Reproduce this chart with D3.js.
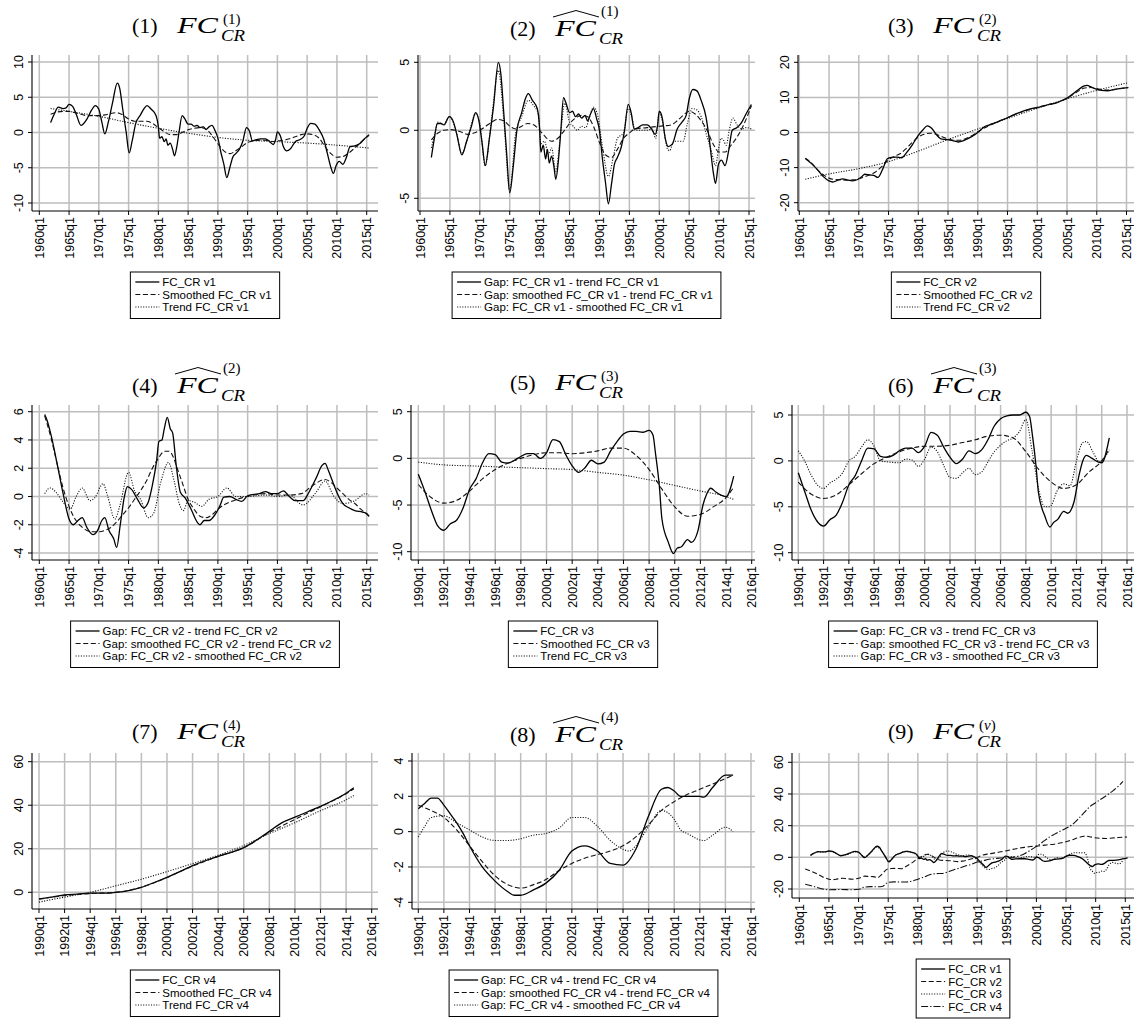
<!DOCTYPE html>
<html><head><meta charset="utf-8">
<script src="https://cdn.jsdelivr.net/npm/d3@7"></script>
<style>body{margin:0;background:#fff}svg{display:block}</style>
</head><body>
<svg id="chart" width="1134" height="1019"></svg>
<script>
// ---------------- tick labels ----------------
const xLabLong = ["1960q1","1965q1","1970q1","1975q1","1980q1","1985q1","1990q1","1995q1","2000q1","2005q1","2010q1","2015q1"];
const xLabShort = ["1990q1","1992q1","1994q1","1996q1","1998q1","2000q1","2002q1","2004q1","2006q1","2008q1","2010q1","2012q1","2014q1","2016q1"];
const yTicks1 = [-10,-5,0,5,10];
const yTicks2 = [-5,0,5];
const yTicks3 = [-20,-10,0,10,20];
const yTicks4 = [-4,-2,0,2,4,6];
const yTicks5 = [-10,-5,0,5];
const yTicks6 = [-10,-5,0,5];
const yTicks7 = [0,20,40,60];
const yTicks8 = [-4,-2,0,2,4];
const yTicks9 = [-20,0,20,40,60];

// ---------------- series [year, value] ----------------
const fc1 = [[1961.9,1.4],[1962.5,2.6],[1963.2,3.6],[1964,3.4],[1964.5,3.5],[1965,4.0],[1965.6,3.7],[1966.2,2.6],[1967,1.0],[1968,1.9],[1968.8,3.2],[1969.4,3.8],[1970,3.3],[1970.5,1.5],[1971,-0.2],[1971.6,1.5],[1972.3,4.2],[1973.1,7.0],[1973.5,6.3],[1974,3.4],[1974.6,0.0],[1975.1,-2.9],[1975.6,-1.2],[1976.2,1.3],[1977,2.5],[1977.6,3.4],[1978.1,3.8],[1978.8,3.3],[1979.6,2.4],[1980,0.8],[1980.2,-0.8],[1980.6,-0.6],[1981,-1.3],[1981.3,-0.9],[1981.6,-1.8],[1982,-1.5],[1982.4,-2.4],[1982.7,-3.3],[1983.1,-2.0],[1983.5,0.2],[1984,2.4],[1984.4,2.0],[1985,1.2],[1985.5,1.2],[1986,0.9],[1986.5,1.0],[1987,0.7],[1987.6,0.8],[1988,0.4],[1988.5,0.8],[1989,1.0],[1989.5,0.3],[1990,-0.8],[1990.5,-2.8],[1991,-4.5],[1991.5,-6.4],[1992,-5.0],[1992.5,-3.5],[1993,-3.0],[1993.6,-2.4],[1994.2,-1.2],[1994.8,0.7],[1995.3,0.2],[1995.8,-1.2],[1996.5,-1.0],[1997.2,-0.9],[1998,-0.9],[1998.7,-1.3],[1999.3,-1.7],[1999.7,-1.0],[2000,0.1],[2000.5,-0.5],[2001,-2.0],[2001.5,-2.6],[2002.2,-2.3],[2003,-1.3],[2003.8,-1.0],[2004.5,-0.5],[2005,0.6],[2005.6,1.3],[2006.3,1.2],[2007,0.4],[2007.8,-1.0],[2008.4,-3.0],[2009,-5.0],[2009.4,-5.8],[2009.9,-4.6],[2010.4,-4.1],[2011,-4.5],[2011.6,-3.5],[2012.2,-2.0],[2013,-1.9],[2013.8,-1.6],[2014.5,-1.0],[2015.4,-0.3]];
const fc1Smooth = [[1961.9,2.6],[1963,2.9],[1964,3.0],[1965,3.0],[1966,2.8],[1967,2.6],[1968,2.4],[1969,2.4],[1970,2.4],[1971,2.5],[1972,2.7],[1973,2.8],[1974,2.5],[1975,1.9],[1976,1.6],[1977,1.6],[1978,1.6],[1979,1.3],[1980,0.7],[1981,0.1],[1982,-0.3],[1983,-0.3],[1984,0.0],[1985,0.4],[1986,0.6],[1987,0.7],[1988,0.5],[1989,-0.4],[1990,-1.6],[1991,-2.6],[1992,-3.0],[1993,-2.6],[1994,-2.0],[1995,-1.4],[1996,-1.2],[1997,-1.1],[1998,-1.1],[1999,-1.3],[2000,-1.2],[2001,-1.1],[2002,-0.9],[2003,-0.6],[2004,-0.3],[2005,-0.2],[2006,-0.3],[2007,-0.8],[2008,-2.0],[2009,-3.0],[2010,-3.5],[2011,-3.4],[2012,-2.9],[2013,-2.2],[2014,-1.4],[2015.4,-0.4]];
const fc1Trend = [[1961.9,3.4],[1965,3.0],[1970,2.3],[1975,1.4],[1980,0.6],[1985,-0.1],[1990,-0.7],[1995,-1.1],[2000,-1.3],[2005,-1.5],[2010,-1.8],[2015.4,-2.2]];

const gap1Trend = [[1961.9,-2.0],[1962.4,-0.6],[1962.9,0.5],[1963.5,0.5],[1964,0.4],[1964.9,1.0],[1965.6,0.6],[1966.2,-0.4],[1967,-1.8],[1967.8,-0.8],[1968.6,0.3],[1969.3,1.3],[1969.8,0.8],[1970.4,-1.0],[1970.9,-2.6],[1971.6,-0.6],[1972.3,1.8],[1973.1,5.0],[1973.5,4.2],[1974,1.3],[1974.5,-1.8],[1975,-4.6],[1975.6,-2.6],[1976.2,0.0],[1977,1.3],[1977.6,2.3],[1978.1,2.7],[1978.8,2.2],[1979.6,1.6],[1980,0.1],[1980.2,-1.6],[1980.6,-1.1],[1981,-2.1],[1981.3,-1.4],[1981.6,-2.4],[1982,-1.9],[1982.4,-2.7],[1982.7,-3.6],[1983.1,-2.4],[1983.5,-0.3],[1984,2.4],[1984.4,2.0],[1985,1.3],[1985.5,1.4],[1986,1.0],[1986.5,1.2],[1987,0.9],[1987.6,1.1],[1988,0.7],[1988.5,1.2],[1989,1.6],[1989.5,0.9],[1990,0.0],[1990.5,-2.1],[1991,-3.8],[1991.5,-5.4],[1992,-4.0],[1992.5,-2.5],[1993,-2.0],[1993.6,-1.3],[1994.2,0.0],[1994.8,1.9],[1995.3,1.3],[1995.8,0.1],[1996.5,0.2],[1997.2,0.4],[1998,0.4],[1998.7,0.1],[1999.3,-0.3],[1999.7,0.3],[2000,1.4],[2000.5,0.9],[2001,-0.6],[2001.5,-1.2],[2002.2,-1.0],[2003,0.1],[2003.8,0.6],[2004.5,1.1],[2005,2.3],[2005.6,3.0],[2006.3,2.9],[2007,2.2],[2007.8,1.0],[2008.4,-0.8],[2009,-3.0],[2009.4,-3.9],[2009.9,-2.5],[2010.4,-2.2],[2011,-2.6],[2011.6,-1.5],[2012.2,0.0],[2013,0.2],[2013.8,0.6],[2014.5,1.2],[2015.4,1.9]];
const gap1SmTrend = [[1961.9,-0.7],[1963,-0.2],[1964,0.0],[1965,0.05],[1966,0.0],[1967,-0.15],[1968,-0.3],[1969,-0.2],[1970,0.0],[1971,0.3],[1972,0.6],[1973,0.8],[1974,0.7],[1975,0.3],[1976,0.1],[1977,0.3],[1978,0.5],[1979,0.4],[1980,0.0],[1981,-0.5],[1982,-0.8],[1983,-0.6],[1984,-0.1],[1985,0.5],[1986,0.9],[1987,1.1],[1988,1.0],[1989,0.3],[1990,-0.9],[1991,-1.8],[1992,-2.0],[1993,-1.4],[1994,-0.6],[1995,-0.2],[1996,0.1],[1998,0.2],[2000,0.3],[2002,0.4],[2003,0.7],[2004,1.1],[2005,1.4],[2006,1.2],[2007,0.7],[2008,0.0],[2009,-1.0],[2010,-1.6],[2011,-1.6],[2012,-1.1],[2013,-0.5],[2014,0.3],[2015.4,1.8]];
const gap1Sm = [[1961.9,-1.3],[1962.5,-0.2],[1963,0.6],[1964,0.4],[1964.9,1.0],[1966,0.0],[1967,-1.7],[1968,-0.5],[1969.3,1.2],[1970,0.5],[1970.9,-2.6],[1972,1.0],[1973.1,4.4],[1974,0.8],[1975,-4.4],[1976,-0.2],[1977,1.0],[1978.1,2.2],[1979,1.8],[1979.8,1.2],[1980.2,-1.0],[1980.8,-0.8],[1981.5,-1.8],[1982,-1.3],[1982.7,-3.0],[1983.5,-0.3],[1984.2,2.0],[1985,0.6],[1985.6,0.3],[1986.3,0.0],[1987,0.3],[1987.7,0.2],[1988.3,0.9],[1989,1.7],[1989.7,1.1],[1990.5,-1.2],[1991.5,-3.4],[1992.3,-2.0],[1993,-0.6],[1994,-0.2],[1994.8,1.6],[1995.4,1.0],[1996,0.0],[1997,0.0],[1998,0.0],[1998.8,0.1],[1999.4,-0.6],[2000,1.3],[2000.6,0.5],[2001.3,-1.3],[2001.7,-1.5],[2002.5,-0.8],[2003.3,-0.8],[2004,-0.8],[2004.7,0.5],[2005.5,1.6],[2006.3,1.5],[2007,1.0],[2008,-0.5],[2008.7,-1.5],[2009.4,-2.6],[2009.9,-1.4],[2010.3,-0.6],[2010.7,-0.7],[2011.2,-1.1],[2011.7,0.0],[2012.3,0.9],[2013,0.4],[2013.8,0.1],[2014.6,0.2],[2015.4,0.1]];

const fc2 = [[1961,-7.4],[1962,-8.8],[1963,-10.5],[1964,-12.5],[1965,-13.8],[1965.6,-14.1],[1966.5,-13.6],[1967.3,-13.2],[1968,-13.5],[1969,-13.8],[1969.8,-13.4],[1970.5,-12.6],[1971,-11.9],[1971.8,-12.1],[1972.5,-12.2],[1973.2,-12.8],[1974,-10.5],[1974.8,-7.5],[1975.5,-7.1],[1976.3,-7.0],[1977.2,-7.2],[1978,-5.8],[1979,-3.5],[1980,-0.8],[1980.8,0.8],[1981.5,1.9],[1982.2,1.3],[1983,-0.5],[1983.8,-1.8],[1984.8,-2.0],[1985.8,-2.3],[1986.7,-2.7],[1987.5,-2.4],[1988.5,-1.6],[1989.5,-0.6],[1990.3,0.4],[1991,1.5],[1992,2.2],[1993,2.8],[1994,3.5],[1995,4.2],[1996,5.0],[1997,5.7],[1998,6.3],[1999,6.8],[2000,7.1],[2001,7.5],[2002,8.0],[2003,8.3],[2004,9.0],[2005,9.8],[2006,11.0],[2007,12.3],[2007.8,13.2],[2008.4,13.4],[2009,13.0],[2009.8,12.4],[2010.8,12.0],[2011.8,11.9],[2012.8,12.2],[2013.8,12.5],[2015.3,12.8]];
const fc2Smooth = [[1961,-7.3],[1962,-8.6],[1963,-10.5],[1964,-12.0],[1965,-13.0],[1966,-13.4],[1967,-13.5],[1968,-13.6],[1969,-13.5],[1970,-13.2],[1971,-12.6],[1972,-12.0],[1973,-11.0],[1974,-9.5],[1975,-7.8],[1976,-6.8],[1977,-6.0],[1978,-4.5],[1979,-2.8],[1980,-1.3],[1981,-0.5],[1982,-0.2],[1983,-0.5],[1984,-1.2],[1985,-1.8],[1986,-2.2],[1987,-2.2],[1988,-1.7],[1989,-0.9],[1990,0.2],[1991,1.2],[1992,2.0],[1993,2.8],[1995,4.2],[1997,5.6],[2000,7.2],[2002,8.0],[2004,9.0],[2005,9.8],[2006,10.8],[2007,11.9],[2008,12.7],[2009,12.8],[2010,12.5],[2011,12.2],[2012,12.1],[2013.5,12.4],[2015.3,12.8]];
const fc2Trend = [[1961,-13.3],[1965,-11.8],[1970,-10.3],[1975,-8.3],[1980,-5.3],[1985,-2.0],[1990,1.0],[1995,4.0],[2000,6.9],[2005,9.6],[2010,12.0],[2015.3,14.2]];

const gap2Trend = [[1960.9,5.8],[1961.3,5.4],[1962,4.3],[1963,2.3],[1964,0.2],[1965,-1.6],[1965.7,-2.0],[1966.5,-1.7],[1967.2,-1.5],[1968,-2.2],[1969,-2.7],[1969.8,-2.4],[1970.5,-1.7],[1971,-1.5],[1971.7,-2.4],[1972.5,-3.0],[1973,-3.6],[1973.6,-2.0],[1974.3,0.0],[1974.8,0.7],[1975.5,0.5],[1976.5,-0.2],[1977.5,-0.8],[1978.3,-0.4],[1979,0.8],[1979.7,2.5],[1980.1,3.9],[1980.6,4.0],[1981,4.8],[1981.5,5.6],[1982,4.8],[1982.4,4.5],[1983,2.2],[1983.7,0.3],[1984.5,-0.1],[1985.5,-0.9],[1986.5,-1.8],[1987,-2.0],[1987.7,-1.7],[1988.5,-1.7],[1989.5,-1.3],[1990.3,-0.7],[1991,-0.05],[1992,0.0],[1993,-0.2],[1994,-0.35],[1995,0.05],[1996,0.15],[1997,0.2],[1998,0.35],[1999,0.2],[2000,0.2],[2001,0.4],[2002,0.0],[2003,-0.3],[2004.3,-0.3],[2005.3,0.3],[2006.5,1.3],[2007.5,2.2],[2008,2.35],[2008.6,1.8],[2009.5,0.8],[2010.3,0.0],[2011,-0.5],[2012,-0.8],[2013,-1.0],[2014.3,-1.1],[2015,-1.2],[2015.4,-1.4]];
const gap2SmTrend = [[1960.9,5.7],[1962,4.1],[1963,2.3],[1964,0.6],[1965,-0.7],[1966,-1.6],[1967,-2.1],[1968,-2.4],[1969,-2.5],[1970,-2.5],[1971,-2.4],[1972,-2.2],[1973,-1.8],[1974,-1.3],[1975,-0.8],[1976,-0.2],[1977,0.4],[1978,1.1],[1979,2.0],[1980,2.7],[1981,3.2],[1981.8,3.2],[1982.5,2.8],[1983,2.2],[1984,1.0],[1985,-0.2],[1986,-0.9],[1987,-1.4],[1988,-1.5],[1989,-1.3],[1990,-0.9],[1991,-0.6],[1992,-0.4],[1994,-0.1],[1996,0.1],[1998,0.2],[2000,0.1],[2002,0.1],[2004,0.2],[2006,0.8],[2008,1.2],[2009,1.0],[2010,0.6],[2011,0.2],[2012,-0.2],[2013,-0.5],[2014,-0.9],[2015.4,-1.4]];
const gap2Sm = [[1960.9,0.2],[1961.8,0.6],[1962.8,0.3],[1964,-0.4],[1965.2,-0.9],[1966.2,0.0],[1967.2,0.6],[1968.5,-0.3],[1969.3,-0.1],[1970.7,0.9],[1971.5,0.0],[1972.7,-1.6],[1973.5,-0.7],[1975,1.7],[1976,0.4],[1977,-0.2],[1978.3,-1.5],[1979.2,-1.2],[1980.4,1.0],[1981.7,2.4],[1982.7,1.0],[1983.5,-0.5],[1984.2,-1.0],[1985,-0.3],[1986,-0.4],[1987.3,-0.7],[1988.5,-0.2],[1990,0.0],[1991.5,0.6],[1993,0.0],[1995,0.0],[1998,0.1],[2000,0.0],[2002,0.1],[2004.3,-0.6],[2006.5,0.3],[2008,1.1],[2009.5,0.0],[2011,-0.5],[2013,-0.3],[2014.8,0.2],[2015.4,0.1]];

const fc3 = [[1990,-1.7],[1990.5,-3.5],[1991,-5.5],[1991.5,-7.2],[1992,-7.7],[1992.5,-7.0],[1993,-6.6],[1993.5,-5.3],[1994,-3.3],[1994.5,-2.2],[1995,-0.5],[1995.5,0.5],[1996,0.4],[1996.5,-0.4],[1997,-0.5],[1997.5,-0.2],[1998,0.2],[1998.5,0.5],[1999,0.5],[1999.5,0.0],[2000,0.6],[2000.5,2.0],[2001,1.8],[2001.5,0.4],[2002,-0.8],[2002.5,-1.5],[2003,-1.0],[2003.5,-0.2],[2004,-0.6],[2004.5,-0.4],[2005,0.8],[2005.5,1.8],[2006,2.6],[2006.5,2.9],[2007,2.9],[2007.5,2.8],[2008,3.0],[2008.3,2.5],[2008.5,0.5],[2008.8,-3.0],[2009,-6.5],[2009.5,-9.0],[2009.9,-10.2],[2010.2,-9.6],[2010.5,-9.5],[2011,-8.7],[2011.3,-9.0],[2011.8,-7.8],[2012.2,-5.0],[2012.5,-3.8],[2012.8,-3.2],[2013.2,-3.6],[2013.7,-4.0],[2014,-4.1],[2014.6,-1.9]];
const fc3Smooth = [[1990,-2.8],[1991,-4.2],[1992,-4.8],[1993,-4.5],[1994,-3.5],[1995,-2.2],[1996,-1.2],[1997,-0.5],[1998,0.0],[1999,0.4],[2000,0.6],[2001,0.6],[2002,0.5],[2003,0.6],[2004,0.8],[2005,1.1],[2006,1.1],[2007,0.3],[2008,-1.2],[2009,-3.3],[2010,-5.2],[2011,-6.2],[2012,-6.0],[2013,-5.2],[2014,-4.2],[2014.6,-3.1]];
const fc3Trend = [[1990,-0.4],[1992,-0.7],[1994,-0.8],[1996,-0.9],[1998,-1.0],[2000,-1.1],[2002,-1.2],[2004,-1.5],[2006,-1.8],[2008,-2.3],[2010,-2.9],[2012,-3.5],[2014,-4.1],[2014.6,-4.4]];

const gap3Trend = [[1990,-1.3],[1990.5,-3.3],[1991,-5.3],[1991.5,-6.6],[1992,-7.1],[1992.5,-6.4],[1993,-5.9],[1993.5,-4.5],[1994,-2.6],[1994.5,-1.6],[1995,0.0],[1995.5,1.4],[1996,1.3],[1996.5,0.5],[1997,0.4],[1997.5,0.6],[1998,1.1],[1998.5,1.4],[1999,1.4],[1999.5,0.9],[2000,1.6],[2000.5,3.1],[2001,2.8],[2001.5,1.5],[2002,0.4],[2002.5,-0.3],[2003,0.2],[2003.5,1.1],[2004,0.8],[2004.5,1.2],[2005,2.3],[2005.5,3.8],[2006,4.6],[2006.5,4.9],[2007,5.0],[2007.5,5.0],[2008,5.3],[2008.3,4.8],[2008.5,3.0],[2008.8,-0.5],[2009,-3.5],[2009.5,-6.0],[2009.9,-7.2],[2010.2,-6.7],[2010.5,-6.4],[2011,-5.5],[2011.3,-5.7],[2011.8,-4.5],[2012.2,-1.6],[2012.5,0.0],[2012.8,0.6],[2013.2,0.3],[2013.7,-0.1],[2014,-0.2],[2014.6,2.5]];
const gap3SmTrend = [[1990,-2.3],[1991,-3.6],[1992,-4.1],[1993,-3.7],[1994,-2.6],[1995,-1.4],[1996,-0.3],[1997,0.4],[1998,1.0],[1999,1.4],[2000,1.6],[2001,1.6],[2002,1.7],[2003,2.0],[2004,2.3],[2005,2.7],[2006,2.8],[2007,2.5],[2008,1.0],[2009,-0.9],[2010,-2.3],[2011,-3.0],[2012,-2.6],[2013,-1.2],[2014,0.0],[2014.6,1.3]];
const gap3Sm = [[1990,1.1],[1990.5,0.0],[1991,-1.5],[1991.5,-2.6],[1992,-3.0],[1992.5,-2.4],[1993,-2.0],[1993.5,-1.3],[1994,0.0],[1994.5,0.5],[1995,1.5],[1995.5,2.3],[1996,1.6],[1996.5,0.0],[1997,-0.1],[1998,-0.2],[1998.5,0.2],[1999,0.1],[1999.5,-0.6],[2000,0.2],[2000.5,1.5],[2001,1.0],[2001.5,-0.5],[2002,-1.8],[2002.5,-1.9],[2003,-1.3],[2003.5,-0.8],[2004,-1.5],[2004.5,-1.2],[2005,-0.1],[2005.5,1.0],[2006,1.7],[2006.5,2.2],[2007,2.5],[2007.5,3.2],[2008,4.5],[2008.5,1.0],[2009,-3.0],[2009.5,-5.0],[2009.9,-5.0],[2010.5,-3.2],[2011,-2.5],[2011.5,-2.7],[2012,0.0],[2012.5,2.0],[2012.8,2.1],[2013.3,1.0],[2013.8,-0.1],[2014.6,1.2]];

const fc4 = [[1990,-3.0],[1991,-2.2],[1992,-1.2],[1993,-0.8],[1994,-0.4],[1995,-0.4],[1996,0.0],[1997,0.8],[1998,2.3],[1999,4.5],[2000,6.9],[2001,9.5],[2002,12.3],[2003,14.5],[2004,16.5],[2005,18.3],[2006,20.5],[2007,24.0],[2008,28.0],[2009,32.0],[2010,34.5],[2011,37.0],[2012,39.5],[2013,42.3],[2014,45.5],[2014.6,48.0]];
const fc4Smooth = [[1990,-3.2],[1992,-1.5],[1994,-0.6],[1996,0.0],[1998,2.3],[2000,6.8],[2002,12.0],[2004,16.5],[2006,20.5],[2008,27.5],[2010,33.5],[2012,39.3],[2014,45.3],[2014.6,47.5]];
const fc4Trend = [[1990,-4.5],[1992,-2.2],[1994,0.0],[1996,3.0],[1998,6.0],[2000,9.5],[2002,13.2],[2004,17.0],[2006,21.5],[2008,27.0],[2010,32.0],[2012,37.5],[2014,42.5],[2014.6,44.5]];

const gap4Trend = [[1990,1.3],[1990.5,1.6],[1991,1.9],[1991.5,1.9],[1992,1.5],[1992.5,1.0],[1993,0.5],[1993.5,-0.1],[1994,-0.8],[1995,-2.0],[1996,-2.8],[1997,-3.4],[1997.5,-3.6],[1998,-3.6],[1999,-3.3],[2000,-2.9],[2001,-2.2],[2002,-1.1],[2003,-0.8],[2004,-1.1],[2005,-1.8],[2006,-1.9],[2007,-1.0],[2008,0.9],[2009,2.4],[2009.5,2.5],[2010,2.3],[2010.5,2.0],[2011,2.0],[2012,2.0],[2012.3,1.95],[2013,2.5],[2014,3.2],[2014.6,3.2]];
const gap4SmTrend = [[1990,1.5],[1991,1.2],[1992,0.8],[1993,0.1],[1994,-0.8],[1995,-1.7],[1996,-2.5],[1997,-3.0],[1998,-3.2],[1999,-3.0],[2000,-2.7],[2001,-2.2],[2002,-1.8],[2003,-1.5],[2004,-1.3],[2005,-1.1],[2006,-0.8],[2007,-0.3],[2008,0.4],[2009,1.2],[2010,1.7],[2011,2.1],[2012,2.4],[2013,2.7],[2014,3.0],[2014.6,3.2]];
const gap4Sm = [[1990,-0.3],[1990.5,0.3],[1991,0.8],[1992,0.9],[1993,0.5],[1994,0.1],[1995,-0.3],[1996,-0.5],[1997,-0.5],[1998,-0.4],[1999,-0.2],[2000,-0.1],[2001,0.2],[2002,0.8],[2003,0.8],[2004,0.3],[2005,-0.5],[2006,-1.0],[2006.5,-1.1],[2007,-0.8],[2008,0.3],[2009,1.2],[2010,0.7],[2010.5,0.1],[2011,-0.1],[2012.3,-0.5],[2013,-0.2],[2014,0.25],[2014.6,0.0]];

// v3 and v4 before 1990 (only visible in panel 9)
const fc3Early = [[1961.9,1.0],[1963,3.3],[1964,3.4],[1965,3.8],[1966,2.8],[1967,1.2],[1968,1.8],[1969.4,3.4],[1970,3.0],[1971,0.2],[1972,2.8],[1973.1,6.5],[1974,3.5],[1975.1,-2.4],[1976.2,1.2],[1977,2.6],[1978.1,3.9],[1979,3.2],[1980,1.0],[1980.5,-0.5],[1981.3,1.5],[1981.8,2.0],[1982.5,0.0],[1983,-1.5],[1983.5,-0.5],[1984.3,3.0],[1985,4.0],[1985.6,3.5],[1986.5,2.0],[1987.5,1.0],[1988.5,1.5],[1989.3,0.8]];
const fc4Early = [[1961,-17.0],[1962,-18.0],[1963,-19.0],[1964,-20.0],[1965,-20.5],[1967,-20.3],[1969,-20.5],[1970,-20.2],[1971,-18.8],[1972,-18.5],[1973,-18.6],[1974,-18.4],[1975,-15.8],[1976,-15.5],[1978,-15.6],[1979,-15.0],[1980,-13.8],[1981,-12.5],[1982,-11.0],[1983,-10.3],[1984,-10.2],[1985,-9.3],[1986,-8.0],[1987,-6.8],[1988,-5.5],[1989,-4.5]];

// ---------------- legend labels ----------------
const legLevels = v => [`FC_CR ${v}`, `Smoothed FC_CR ${v}`, `Trend FC_CR ${v}`];
const legGaps = v => [`Gap: FC_CR ${v} - trend FC_CR ${v}`, `Gap: smoothed FC_CR ${v} - trend FC_CR ${v}`, `Gap: FC_CR ${v} - smoothed FC_CR ${v}`];
const legAll = ["FC_CR v1","FC_CR v2","FC_CR v3","FC_CR v4"];

// ---------------- layout ----------------
const svg = d3.select("#chart");
const colCenter = [189, 567, 945];
const colRight = [378, 755, 1134];
const rowTop = [55, 405, 753];
const rowTitle = [33, 390, 739];
const sansFont = "'Liberation Sans', Arial, Helvetica, sans-serif";
const serifFont = "'Liberation Serif', 'DejaVu Serif', serif";

const lineStyles = {
  solid:   {dash:null, w:1.3, c:"#000"},
  dash:    {dash:"5,2.6", w:1.1, c:"#111"},
  dot:     {dash:"1.1,1.5", w:1.1, c:"#111"},
  dashdot: {dash:"7,2,1.3,2", w:1.1, c:"#111"}
};
const styleOrder3 = ["solid","dash","dot"];

const panels = [
  {n:"1",k:"1",hat:false,col:0,row:0,ax:32, xr:[39.3,366.7], xd:[1960,2015], axisY:211, yd:[10,-10], yr:[62,203], yt:yTicks1, xl:xLabLong,
   series:[fc1,fc1Smooth,fc1Trend], leg:legLevels("v1")},
  {n:"2",k:"1",hat:true,col:1,row:0,ax:418, xr:[420,749], xd:[1960,2015], axisY:211, yd:[5,-5], yr:[62.3,198.3], yt:yTicks2, xl:xLabLong,
   series:[gap1Trend,gap1SmTrend,gap1Sm], leg:legGaps("v1")},
  {n:"3",k:"2",hat:false,col:2,row:0,ax:798, xr:[799.3,1126.5], xd:[1960,2015], axisY:211, yd:[20,-20], yr:[62.3,202.7], yt:yTicks3, xl:xLabLong,
   series:[fc2,fc2Smooth,fc2Trend], leg:legLevels("v2")},
  {n:"4",k:"2",hat:true,col:0,row:1,ax:32, xr:[39.3,366.7], xd:[1960,2015], axisY:560, yd:[6,-4], yr:[411.7,553], yt:yTicks4, xl:xLabLong,
   series:[gap2Trend,gap2SmTrend,gap2Sm], leg:legGaps("v2")},
  {n:"5",k:"3",hat:false,col:1,row:1,ax:411, xr:[418.3,751.7], xd:[1990,2016], axisY:560, yd:[5,-10], yr:[411.7,551.7], yt:yTicks5, xl:xLabShort,
   series:[fc3,fc3Smooth,fc3Trend], leg:legLevels("v3")},
  {n:"6",k:"3",hat:true,col:2,row:1,ax:792, xr:[798.3,1127], xd:[1990,2016], axisY:560, yd:[5,-10], yr:[415,552.7], yt:yTicks6, xl:xLabShort,
   series:[gap3Trend,gap3SmTrend,gap3Sm], leg:legGaps("v3")},
  {n:"7",k:"4",hat:false,col:0,row:2,ax:32, xr:[39,371.7], xd:[1990,2016], axisY:909, yd:[60,0], yr:[761.7,892.3], yt:yTicks7, xl:xLabShort,
   series:[fc4,fc4Smooth,fc4Trend], leg:legLevels("v4")},
  {n:"8",k:"4",hat:true,col:1,row:2,ax:412, xr:[418.3,751], xd:[1990,2016], axisY:909, yd:[4,-4], yr:[761,902.3], yt:yTicks8, xl:xLabShort,
   series:[gap4Trend,gap4SmTrend,gap4Sm], leg:legGaps("v4")},
  {n:"9",k:"v",hat:false,col:2,row:2,ax:792, xr:[799.3,1125.3], xd:[1960,2015], axisY:898, yd:[60,-20], yr:[762.3,889], yt:yTicks9, xl:xLabLong,
   series:[fc1, fc2, fc3Early.concat(fc3), fc4Early.concat(fc4)], styles:["solid","dash","dot","dashdot"], leg:legAll}
];

function labelValue(s){ return +s.slice(0,4) + (+s.slice(5) - 1)/4; }

function drawTitle(p){
  const g = svg.append("g");
  const x0 = colCenter[p.col] - 57;
  const B = rowTitle[p.row] + (p.hat ? 3 : 0);
  g.append("text").attr("x",x0).attr("y",B).attr("font-family",serifFont).attr("font-size",22)
    .text(`(${p.n})`);
  g.append("text").attr("x",x0+45).attr("y",B).attr("font-family",serifFont).attr("font-size",24)
    .attr("font-style","italic").attr("textLength",41).attr("lengthAdjust","spacingAndGlyphs").text("FC");
  const sup = g.append("text").attr("x",x0+91).attr("y",B-(p.hat?20:9)).attr("font-family",serifFont).attr("font-size",15);
  sup.append("tspan").text("(");
  sup.append("tspan").attr("font-style", p.k==="v" ? "italic" : "normal").text(p.k);
  sup.append("tspan").text(")");
  g.append("text").attr("x",x0+89).attr("y",B+8).attr("font-family",serifFont).attr("font-size",16)
    .attr("font-style","italic").attr("textLength",24).attr("lengthAdjust","spacingAndGlyphs").text("CR");
  if(p.hat){
    g.append("path").attr("d",`M${x0+43},${B-19} L${x0+66},${B-25.5} L${x0+89},${B-19}`)
      .attr("fill","none").attr("stroke","#000").attr("stroke-width",1);
  }
}

panels.forEach(p => {
  const top = rowTop[p.row];
  const right = colRight[p.col];
  const x = d3.scaleLinear().domain(p.xd).range(p.xr);
  const y = d3.scaleLinear().domain(p.yd).range(p.yr);
  const g = svg.append("g");

  // grid
  const xv = p.xl.map(labelValue);
  g.selectAll(null).data(xv).enter().append("line")
    .attr("x1",d=>x(d)).attr("x2",d=>x(d)).attr("y1",top).attr("y2",p.axisY)
    .attr("stroke","#bdbdbd").attr("stroke-width",1.5);
  g.selectAll(null).data(p.yt).enter().append("line")
    .attr("x1",p.ax).attr("x2",right).attr("y1",d=>y(d)).attr("y2",d=>y(d))
    .attr("stroke","#bdbdbd").attr("stroke-width",1.5);

  // series
  const line = d3.line().x(d=>x(d[0])).y(d=>y(d[1])).curve(d3.curveMonotoneX);
  const sty = p.styles || styleOrder3;
  p.series.forEach((s,i) => {
    const st = lineStyles[sty[i]];
    g.append("path").attr("d",line(s)).attr("fill","none")
      .attr("stroke",st.c).attr("stroke-width",st.w)
      .attr("stroke-dasharray",st.dash).attr("stroke-linejoin","round");
  });

  // axes
  g.append("line").attr("x1",p.ax).attr("x2",p.ax).attr("y1",top).attr("y2",p.axisY)
    .attr("stroke","#000").attr("stroke-width",1.1);
  g.append("line").attr("x1",p.ax).attr("x2",right).attr("y1",p.axisY).attr("y2",p.axisY)
    .attr("stroke","#000").attr("stroke-width",1.1);
  g.selectAll(null).data(p.yt).enter().append("line")
    .attr("x1",p.ax-4).attr("x2",p.ax).attr("y1",d=>y(d)).attr("y2",d=>y(d))
    .attr("stroke","#000").attr("stroke-width",1);
  g.selectAll(null).data(p.yt).enter().append("text")
    .attr("transform",d=>`translate(${p.ax-13.5},${y(d)}) rotate(-90)`)
    .attr("text-anchor","middle").attr("dy","0.36em")
    .attr("font-family",sansFont).attr("font-size",12.5).text(d=>String(d));
  g.selectAll(null).data(xv).enter().append("line")
    .attr("x1",d=>x(d)).attr("x2",d=>x(d)).attr("y1",p.axisY).attr("y2",p.axisY+4)
    .attr("stroke","#000").attr("stroke-width",1);
  g.selectAll(null).data(p.xl).enter().append("text")
    .attr("transform",d=>`translate(${x(labelValue(d))},${p.axisY+6}) rotate(-90)`)
    .attr("text-anchor","end").attr("dy","0.36em")
    .attr("font-family",sansFont).attr("font-size",12.5).text(d=>d);

  // legend
  const spacing = 12.5;
  const lg = g.append("g");
  const texts = p.leg.map((t,i) => lg.append("text").attr("font-family",sansFont).attr("font-size",11.5).text(t));
  const tw = d3.max(texts, t => t.node().getComputedTextLength());
  const bw = 32 + tw + 8;
  const bh = p.leg.length*spacing + 9;
  const bx = (p.ax + right)/2 - bw/2;
  const by = p.axisY + 61;
  lg.insert("rect","text").attr("x",bx).attr("y",by).attr("width",bw).attr("height",bh)
    .attr("fill","#fff").attr("stroke","#000").attr("stroke-width",1);
  texts.forEach((t,i) => {
    const cy = by + 10 + i*spacing;
    t.attr("x",bx+32).attr("y",cy).attr("dy","0.36em");
    const st = lineStyles[sty[i]];
    lg.append("line").attr("x1",bx+5).attr("x2",bx+29).attr("y1",cy).attr("y2",cy)
      .attr("stroke",st.c).attr("stroke-width",st.w).attr("stroke-dasharray",st.dash);
  });

  drawTitle(p);
});
</script>
</body></html>
